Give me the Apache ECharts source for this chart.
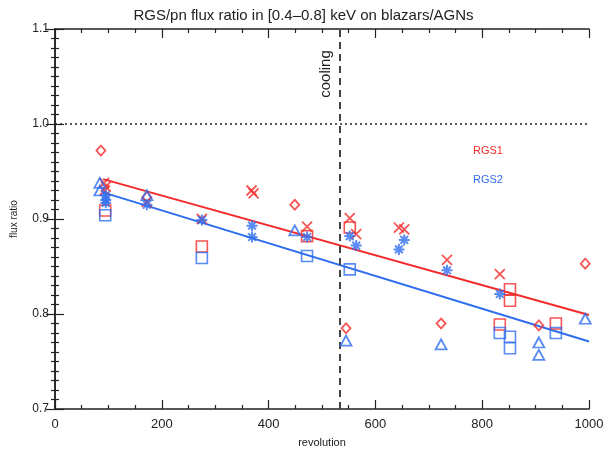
<!DOCTYPE html>
<html><head><meta charset="utf-8">
<script src="https://cdn.jsdelivr.net/npm/echarts@6/dist/echarts.min.js"></script>
<style>html,body{margin:0;padding:0;background:#fff}#c{width:607px;height:450px}</style>
</head><body><div id="c"></div>
<script>
// RGS1 (red)
const rgs1Diamonds = [[86,0.972],[172,0.923],[449,0.915],[545,0.785],[723,0.790],[906,0.788],[993,0.853]];
const rgs1Crosses = [[92,0.938],[95,0.934],[93,0.930],[172,0.918],[275,0.900],[368,0.930],[372,0.927],[472,0.892],[552,0.901],[564,0.884],[644,0.891],[654,0.889],[734,0.857],[833,0.842]];
const rgs1Squares = [[94,0.909],[275,0.871],[472,0.882],[552,0.891],[833,0.789],[852,0.826],[852,0.814],[938,0.790]];
// RGS2 (blue)
const rgs2Triangles = [[84,0.938],[84,0.930],[172,0.925],[449,0.888],[545,0.772],[723,0.768],[906,0.770],[906,0.757],[993,0.795]];
const rgs2Stars = [[95,0.925],[95,0.920],[95,0.917],[172,0.915],[275,0.899],[369,0.893],[369,0.881],[472,0.881],[552,0.882],[564,0.872],[644,0.868],[654,0.878],[734,0.846],[833,0.821]];
const rgs2Squares = [[94,0.904],[275,0.859],[472,0.861],[552,0.847],[833,0.780],[852,0.776],[852,0.764],[938,0.780]];
// linear fits
const fit1 = [[90,0.942],[1000,0.799]];
const fit2 = [[90,0.928],[1000,0.771]];
const coolingRev = 533;
const refRatio = 1.0;
const xTicks = [0,200,400,600,800,1000];
const yTicks = [0.7,0.8,0.9,1.0,1.1];

const RED = '#f42a2a', BLUE = '#2f6ef0';
const FONT = 'Liberation Sans, Helvetica, Arial, sans-serif';
const XPATH = 'path://M0,0L10,10M10,0L0,10';
const STAR = 'path://M0,5L10,5M5,0L5,10M1.5,1.5L8.5,8.5M8.5,1.5L1.5,8.5';

function sc(data, symbol, size, color, bw){
  return {type:'scatter', data, symbol, symbolSize:size, xAxisIndex:0, yAxisIndex:0,
    itemStyle:{color:'transparent', borderColor:color, borderWidth:bw}, emphasis:{disabled:true}, z:5};
}
const axisLine = {show:true, lineStyle:{color:'#222', width:1.5}};
const majT = {show:true, inside:true, length:9, lineStyle:{color:'#222', width:1.2}};
const minX = {show:true, splitNumber:4, length:4, lineStyle:{color:'#222', width:1.2}};
const minY = {show:true, splitNumber:10, length:4, lineStyle:{color:'#222', width:1.2}};
const chart = echarts.init(document.getElementById('c'), null, {renderer:'canvas'});
chart.setOption({
  animation:false,
  backgroundColor:'#fff',
  title:{text:'RGS/pn flux ratio in [0.4\u20130.8] keV on blazars/AGNs', left:'center', top:3,
    textStyle:{fontFamily:FONT, fontSize:15, fontWeight:'normal', color:'#222'}},
  grid:{left:55, right:18, top:29, bottom:41, containLabel:false, outerBoundsMode:'none'},
  xAxis:[
    {type:'value', min:0, max:1000, interval:200, position:'bottom',
     name:'revolution', nameLocation:'middle', nameGap:28,
     nameTextStyle:{fontFamily:FONT, fontSize:11, color:'#222'},
     axisLine, splitLine:{show:false}, axisTick:majT, minorTick:minX,
     axisLabel:{fontFamily:FONT, fontSize:13, color:'#222', margin:9,
       formatter:v=>xTicks.includes(v)?String(v):''}},
    {type:'value', min:0, max:1000, interval:200, position:'top',
     axisLine, splitLine:{show:false}, axisLabel:{show:false}, axisTick:majT, minorTick:minX}
  ],
  yAxis:[
    {type:'value', min:0.7, max:1.1, interval:0.1, position:'left',
     name:'flux ratio', nameLocation:'middle', nameGap:36,
     nameTextStyle:{fontFamily:FONT, fontSize:10, color:'#222'},
     axisLine, splitLine:{show:false}, axisTick:majT, minorTick:minY,
     axisLabel:{fontFamily:FONT, fontSize:12, color:'#222', margin:6,
       formatter:v=>{const t=yTicks.find(a=>Math.abs(a-v)<1e-6);return t!==undefined?t.toFixed(1):'';}}},
    {type:'value', min:0.7, max:1.1, interval:0.1, position:'right',
     axisLine, splitLine:{show:false}, axisLabel:{show:false}, axisTick:majT, minorTick:minY}
  ],
  series:[
    {type:'line', data:[], xAxisIndex:0, yAxisIndex:0, silent:true,
     markLine:{symbol:'none', silent:true, label:{show:false},
       data:[
         {yAxis:refRatio, lineStyle:{type:[2,3], color:'#222', width:1.5}},
         {xAxis:coolingRev, lineStyle:{type:[7,5], color:'#444', width:2}}
       ]}},
    {type:'line', data:fit1, symbol:'none', lineStyle:{color:RED, width:2}, z:4, silent:true},
    {type:'line', data:fit2, symbol:'none', lineStyle:{color:BLUE, width:2}, z:4, silent:true},
    sc(rgs1Diamonds, 'diamond', [9,10], RED, 1.8),
    sc(rgs1Crosses, XPATH, 10, RED, 1.8),
    sc(rgs1Squares, 'rect', 11, RED, 1.6),
    sc(rgs2Triangles, 'triangle', [11,10], BLUE, 1.8),
    sc(rgs2Stars, STAR, 11, BLUE, 2),
    sc(rgs2Squares, 'rect', 11, BLUE, 1.6)
  ],
  graphic:[
    {type:'text', x:326, y:74, rotation:Math.PI/2,
     style:{text:'cooling', fontFamily:FONT, fontSize:15, fill:'#222', align:'center', verticalAlign:'middle'}},
    {type:'text', x:473, y:151, style:{text:'RGS1', fontFamily:FONT, fontSize:11, fill:RED, verticalAlign:'middle'}},
    {type:'text', x:473, y:180, style:{text:'RGS2', fontFamily:FONT, fontSize:11, fill:BLUE, verticalAlign:'middle'}}
  ]
});
</script></body></html>
